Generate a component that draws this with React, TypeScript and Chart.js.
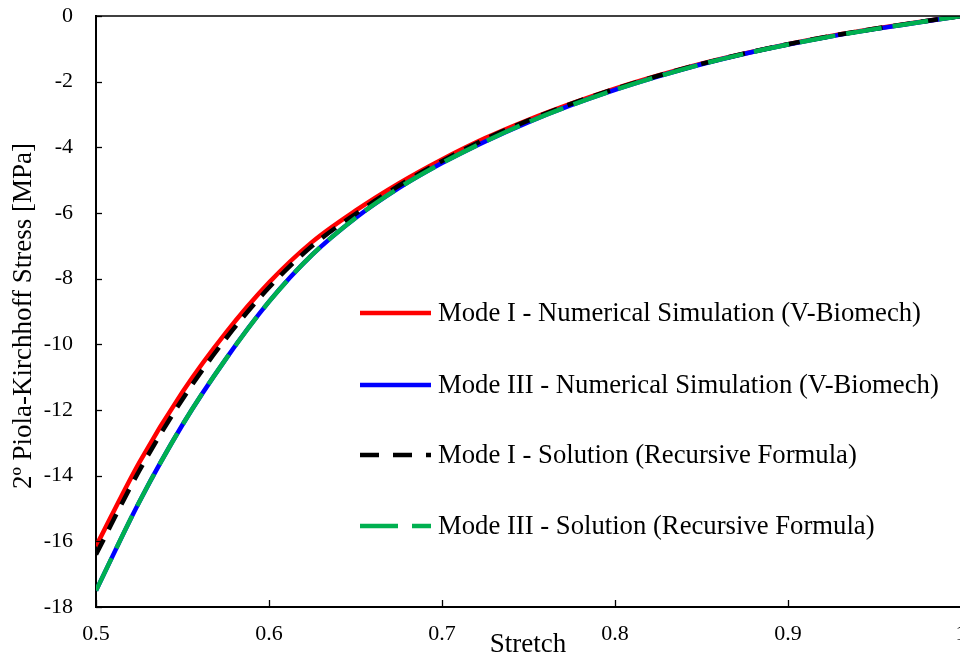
import React, { useEffect, useRef } from "react";
import { Chart, registerables } from "chart.js";

Chart.register(...registerables);

// ---------- data ----------
const stretch = [
  0.5, 0.525, 0.55, 0.575, 0.6, 0.625, 0.65, 0.675, 0.7, 0.725, 0.75,
  0.775, 0.8, 0.825, 0.85, 0.875, 0.9, 0.925, 0.95, 0.975, 1.0,
];
const modeINumerical = [
  -16.15, -13.6, -11.45, -9.65, -8.12, -6.88, -5.93, -5.1, -4.37, -3.72, -3.16,
  -2.66, -2.21, -1.81, -1.45, -1.14, -0.86, -0.61, -0.39, -0.19, 0,
];
const modeIIINumerical = [
  -17.5, -14.8, -12.45, -10.45, -8.7, -7.27, -6.15, -5.24, -4.48, -3.82, -3.23,
  -2.71, -2.25, -1.84, -1.47, -1.15, -0.87, -0.62, -0.4, -0.2, 0,
];
const modeISolution = [
  -16.4, -13.85, -11.67, -9.83, -8.27, -7.0, -6.03, -5.17, -4.42, -3.75, -3.18,
  -2.67, -2.22, -1.82, -1.46, -1.14, -0.86, -0.61, -0.39, -0.19, 0,
];
const modeIIISolution = [
  -17.5, -14.8, -12.45, -10.45, -8.7, -7.27, -6.15, -5.24, -4.48, -3.82, -3.23,
  -2.71, -2.25, -1.84, -1.47, -1.15, -0.87, -0.62, -0.4, -0.2, 0,
];
const seriesLabels = [
  "Mode I - Numerical Simulation (V-Biomech)",
  "Mode III - Numerical Simulation (V-Biomech)",
  "Mode I - Solution (Recursive Formula)",
  "Mode III - Solution (Recursive Formula)",
];
const xTicks = [0.5, 0.6, 0.7, 0.8, 0.9, 1];
const yTicks = [0, -2, -4, -6, -8, -10, -12, -14, -16, -18];
const xTitle = "Stretch";
const yTitle = "2º Piola-Kirchhoff Stress [MPa]";

// ---------- styles ----------
const FONT = "'Liberation Serif', 'Times New Roman', serif";
const seriesStyles = [
  { color: "#FF0000", dash: [] as number[], legendDash: [] as number[], order: 4 },
  { color: "#0000FF", dash: [], legendDash: [], order: 3 },
  { color: "#000000", dash: [17, 11], legendDash: [19, 14], order: 2 },
  { color: "#00B050", dash: [36, 11], legendDash: [38, 14], order: 1 },
];
const seriesValues = [modeINumerical, modeIIINumerical, modeISolution, modeIIISolution];

const framePlugin = {
  id: "framePlugin",
  afterDraw(chart: any) {
    const ctx = chart.ctx as CanvasRenderingContext2D;
    const area = chart.chartArea;
    const xs = chart.scales.x;
    const ys = chart.scales.y;
    ctx.save();
    // top frame line
    ctx.strokeStyle = "#000";
    ctx.lineWidth = 1.5;
    ctx.beginPath();
    ctx.moveTo(area.left, area.top);
    ctx.lineTo(area.right, area.top);
    ctx.stroke();
    // inner tick marks
    ctx.lineWidth = 1.3;
    for (const v of yTicks) {
      const py = Math.round(ys.getPixelForValue(v)) + 0.5;
      ctx.beginPath();
      ctx.moveTo(area.left, py);
      ctx.lineTo(area.left + 6, py);
      ctx.stroke();
    }
    for (const v of xTicks) {
      const px = Math.round(xs.getPixelForValue(v)) + 0.5;
      ctx.beginPath();
      ctx.moveTo(px, area.bottom);
      ctx.lineTo(px, area.bottom - 7);
      ctx.stroke();
    }
    // axis titles
    ctx.fillStyle = "#000";
    ctx.font = `27px ${FONT}`;
    ctx.textAlign = "center";
    ctx.textBaseline = "middle";
    ctx.fillText(xTitle, (area.left + area.right) / 2 - 0.5, 645);
    ctx.save();
    ctx.translate(24, 316);
    ctx.rotate(-Math.PI / 2);
    ctx.fillText(yTitle, 0, 0);
    ctx.restore();
    // legend
    const legendY = [313, 385, 455, 526];
    ctx.font = `26.7px ${FONT}`;
    ctx.textAlign = "left";
    seriesLabels.forEach((label, i) => {
      const st = seriesStyles[i];
      ctx.strokeStyle = st.color;
      ctx.lineWidth = 4.5;
      ctx.lineCap = "butt";
      ctx.setLineDash(st.legendDash);
      ctx.beginPath();
      ctx.moveTo(360, legendY[i]);
      ctx.lineTo(431, legendY[i]);
      ctx.stroke();
      ctx.setLineDash([]);
      ctx.fillStyle = "#000";
      ctx.fillText(label, 438, legendY[i] + 1);
    });
    ctx.restore();
  },
};

export default function App() {
  const canvasRef = useRef<HTMLCanvasElement | null>(null);

  useEffect(() => {
    if (!canvasRef.current) return;
    const datasets = seriesLabels.map((label, i) => ({
      label,
      data: stretch.map((x, j) => ({ x, y: seriesValues[i][j] })),
      borderColor: seriesStyles[i].color,
      backgroundColor: seriesStyles[i].color,
      borderWidth: 4.5,
      borderDash: seriesStyles[i].dash,
      borderCapStyle: "butt" as const,
      pointRadius: 0,
      fill: false,
      cubicInterpolationMode: "monotone" as const,
      order: seriesStyles[i].order,
    }));

    const chart = new Chart(canvasRef.current, {
      type: "line",
      data: { datasets },
      options: {
        animation: false,
        responsive: false,
        layout: { padding: { left: 0, top: 16, right: 39, bottom: 0 } },
        plugins: {
          legend: { display: false },
          tooltip: { enabled: false },
          title: { display: false },
        },
        scales: {
          x: {
            type: "linear",
            min: 0.5,
            max: 1,
            grid: { display: false, drawTicks: false },
            border: { display: true, color: "#000", width: 2 },
            afterBuildTicks: (s: any) => {
              s.ticks = xTicks.map((v) => ({ value: v }));
            },
            afterFit: (s: any) => {
              s.height = 49;
              s.paddingLeft = 0;
              s.paddingRight = 0;
            },
            ticks: {
              color: "#000",
              font: { family: FONT, size: 22 },
              padding: 14,
              maxRotation: 0,
              autoSkip: false,
              callback: (v: any) => String(Math.round(Number(v) * 10) / 10),
            },
          },
          y: {
            type: "linear",
            min: -18,
            max: 0,
            grid: { display: false, drawTicks: false },
            border: { display: true, color: "#000", width: 2 },
            afterBuildTicks: (s: any) => {
              s.ticks = yTicks.map((v) => ({ value: v }));
            },
            afterFit: (s: any) => {
              s.width = 96;
              s.paddingTop = 0;
              s.paddingBottom = 0;
            },
            ticks: {
              color: "#000",
              font: { family: FONT, size: 22 },
              padding: 23,
              autoSkip: false,
              callback: (v: any) => String(v),
            },
          },
        },
      },
      plugins: [framePlugin],
    });
    return () => chart.destroy();
  }, []);

  return (
    <div
      style={{
        position: "fixed",
        left: 0,
        top: 0,
        width: 960,
        height: 656,
        overflow: "hidden",
        background: "#fff",
      }}
    >
      <canvas
        ref={canvasRef}
        width={1000}
        height={656}
        style={{ width: 1000, height: 656, display: "block" }}
      />
    </div>
  );
}
